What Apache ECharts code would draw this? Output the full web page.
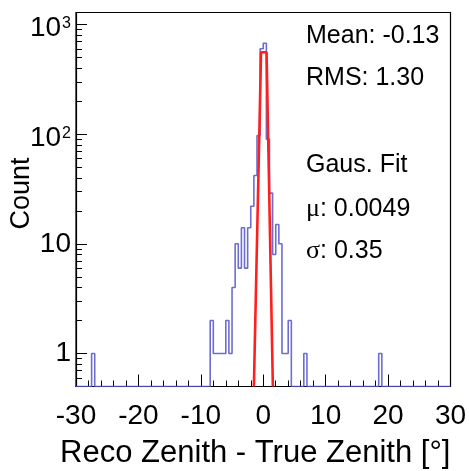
<!DOCTYPE html>
<html><head><meta charset="utf-8">
<script src="https://cdn.jsdelivr.net/npm/echarts@6/dist/echarts.min.js"></script>
<style>html,body{margin:0;padding:0;background:#fff}#c{width:469px;height:471px}</style>
</head><body><div id="c"></div>
<script>
// ---- data ----
const binStart = -30, binWidth = 0.5, nBins = 120;
const binLow   = [-27.5, -8.5, -8.0, -7.5, -7.0, -6.5, -6.0, -5.5, -5.0, -4.5, -4.0, -3.5, -3.0, -2.5, -2.0, -1.5, -1.0, -0.5, 0.0, 0.5, 1.0, 1.5, 2.0, 2.5, 3.0, 3.5, 4.0, 6.5, 18.5];
const binCount = [1, 2, 1, 1, 1, 1, 2, 1, 4, 10, 6, 14, 6, 14, 22, 42, 97, 600, 675, 90, 29, 8, 15, 10, 1, 1, 2, 1, 1];
const fitX = [-1.5, -0.35, 0.53, 1.54];
const fitY = [0.5, 559, 559, 0.5];
const xMin = -30, xMax = 30, xInterval = 10;
const yMin = 0.5, yMax = 1286;
const yMajorTicks = [1, 10, 100, 1000];
const yMinorMult = [2, 3, 4, 5, 6, 7, 8, 9];
const statLines = ['Mean: -0.13', 'RMS: 1.30', 'Gaus. Fit', '{g|μ}: 0.0049', '{g|σ}: 0.35'];
const statY = [36, 78.5, 165, 209, 251];
const xTitle = 'Reco Zenith - True Zenith [°]';
const yTitle = 'Count';

// ---- build ----
const counts = new Array(nBins).fill(0);
binLow.forEach((lo, i) => { counts[Math.round((lo - binStart) / binWidth)] = binCount[i]; });
const histPts = [];
for (let i = 0; i < nBins; i++) {
  const x0 = binStart + i * binWidth;
  const v = counts[i] > 0 ? counts[i] : yMin;
  histPts.push([x0, v], [x0 + binWidth, v]);
}
const fitPts = fitX.map((x, i) => [x, fitY[i]]);
const yMinor = [];
[0.1, 1, 10, 100].forEach(d => yMinorMult.forEach(m => { const v = +(m * d).toFixed(4); if (v >= yMin && v <= yMax) yMinor.push(v); }));

const FONT = 'Liberation Sans';
function isDecade(v) { const l = Math.log10(v); return Math.abs(l - Math.round(l)) < 1e-6; }

const chart = echarts.init(document.getElementById('c'), null, {renderer: 'canvas'});
chart.setOption({
  animation: false,
  backgroundColor: '#fff',
  grid: {left: 76, right: 18.5, top: 12.5, bottom: 84.5, show: true, borderColor: '#000', borderWidth: 1.2,
         containLabel: false, outerBoundsMode: 'none'},
  xAxis: {
    type: 'value', min: xMin, max: xMax, interval: xInterval,
    name: xTitle, nameLocation: 'middle', nameGap: 51, nameMoveOverlap: false,
    nameTextStyle: {fontFamily: FONT, fontSize: 31, color: '#000', padding: [0, 16, 0, 0]},
    axisLine: {show: true, onZero: false, lineStyle: {color: '#000', width: 1.2}},
    axisTick: {show: true, inside: true, length: 12, lineStyle: {color: '#000', width: 1}},
    minorTick: {show: true, splitNumber: 5, length: 6, lineStyle: {color: '#000', width: 1}},
    axisLabel: {fontFamily: FONT, fontSize: 28, color: '#000', margin: 16},
    splitLine: {show: false}, minorSplitLine: {show: false}
  },
  yAxis: [{
    type: 'log', logBase: 10, min: yMin, max: yMax,
    name: yTitle, nameLocation: 'middle', nameGap: 41, nameMoveOverlap: false,
    nameTextStyle: {fontFamily: FONT, fontSize: 27, color: '#000', padding: [0, 0, 0, 12]},
    axisLine: {show: true, onZero: false, lineStyle: {color: '#000', width: 1.2}},
    axisTick: {show: true, inside: true, length: 11, customValues: yMajorTicks, lineStyle: {color: '#000', width: 1}},
    axisLabel: {
      customValues: yMajorTicks, margin: 5, color: '#000',
      formatter: v => {
        if (!isDecade(v)) return '';
        const e = Math.round(Math.log10(v));
        if (e <= 1) return '{c|' + Math.round(v) + '}';
        return '{b|10}{s|' + e + '}';
      },
      rich: {
        c: {fontFamily: FONT, fontSize: 28, lineHeight: 28, color: '#000'},
        b: {fontFamily: FONT, fontSize: 28, lineHeight: 28, padding: [8, 0, 0, 0], color: '#000'},
        s: {fontFamily: FONT, fontSize: 16, lineHeight: 16, verticalAlign: 'top', padding: [5, 0, 0, 1], color: '#000'}
      }
    },
    splitLine: {show: false}
  }, {
    type: 'log', logBase: 10, min: yMin, max: yMax, position: 'left', offset: 0,
    axisLine: {show: false, onZero: false},
    axisTick: {show: true, inside: true, length: 6, customValues: yMinor, lineStyle: {color: '#000', width: 1}},
    axisLabel: {show: false},
    splitLine: {show: false}
  }],
  series: [{
    type: 'line', data: histPts, showSymbol: false, symbol: 'none', clip: true,
    lineStyle: {color: '#5454c8', width: 1.6, opacity: 0.85}, z: 2
  }, {
    type: 'line', data: fitPts, showSymbol: false, symbol: 'none', clip: true,
    lineStyle: {color: '#ff1f1f', width: 2.6}, z: 3
  }],
  graphic: statLines.map((t, i) => ({
    type: 'text', x: 306, y: statY[i], z: 10,
    style: {
      text: t, fill: '#000', font: '25px "' + FONT + '"', align: 'left', verticalAlign: 'middle',
      rich: {g: {fontFamily: 'Liberation Serif', fontSize: 26, fill: '#000'}}
    }
  }))
});
</script></body></html>
